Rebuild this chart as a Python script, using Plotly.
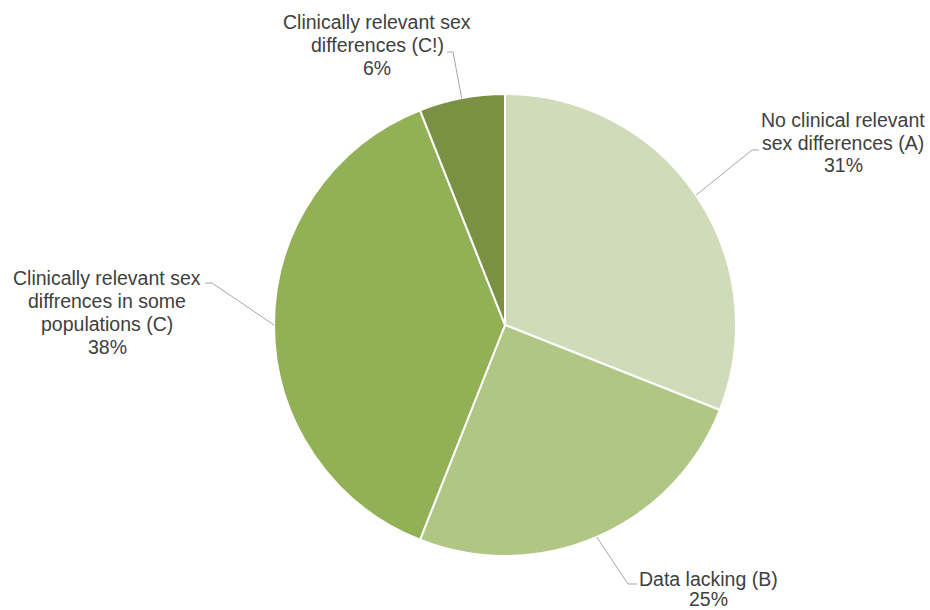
import math
import plotly.graph_objects as go

# Share of products per sex-difference category
categories = [
    "No clinical relevant<br>sex differences (A)",
    "Data lacking (B)",
    "Clinically relevant sex<br>diffrences in some<br>populations (C)",
    "Clinically relevant sex<br>differences (C!)",
]
shares = [31, 25, 38, 6]
colors = ["#d0dcb9", "#afc684", "#92b056", "#7a9143"]

W, H = 930, 610
CX, CY, R = 505, 325, 231  # pie centre and radius in pixels
FONT = dict(family="Liberation Sans, Arial, sans-serif", size=19.5, color="#404040")

# label: centre x and the y of the first line's middle (px), line pitch (px)
label_pos = [(843, 120, 22.5), (708, 579, 20), (107, 278, 23), (377, 22, 23)]
# leader-line elbow (px) for each slice
elbows = [[(759, 150), (752, 150)], [(637, 584), (628, 584)],
          [(205, 283), (212, 283)], [(447, 52), (453, 52)]]


def px(x):
    return x / W


def py(y):
    return 1 - y / H


fig = go.Figure(go.Pie(
    labels=categories,
    values=shares,
    sort=False,
    direction="clockwise",
    rotation=0,
    marker=dict(colors=colors, line=dict(color="white", width=2)),
    textinfo="none",
    hoverinfo="skip",
    showlegend=False,
    domain=dict(x=[px(CX - R), px(CX + R)], y=[py(CY + R), py(CY - R)]),
))

total = sum(shares)
cum = 0
for i, v in enumerate(shares):
    mid = (cum + v / 2) / total * 2 * math.pi
    cum += v
    ax = CX + R * math.sin(mid)
    ay = CY - R * math.cos(mid)
    pts = elbows[i] + [(ax, ay)]
    path = "M " + " L ".join(f"{px(x)},{py(y)}" for x, y in pts)
    fig.add_shape(type="path", path=path, xref="paper", yref="paper",
                  line=dict(color="#a6a6a6", width=1))
    lx, ly, pitch = label_pos[i]
    lines = categories[i].split("<br>") + [f"{v}%"]
    for k, line in enumerate(lines):
        fig.add_annotation(
            x=px(lx), y=py(ly + k * pitch), xref="paper", yref="paper",
            text=line, showarrow=False,
            xanchor="center", yanchor="middle", align="center",
            font=FONT,
        )

fig.update_layout(
    width=W, height=H,
    margin=dict(l=0, r=0, t=0, b=0),
    paper_bgcolor="white", plot_bgcolor="white",
)

fig.write_html("out.html")
